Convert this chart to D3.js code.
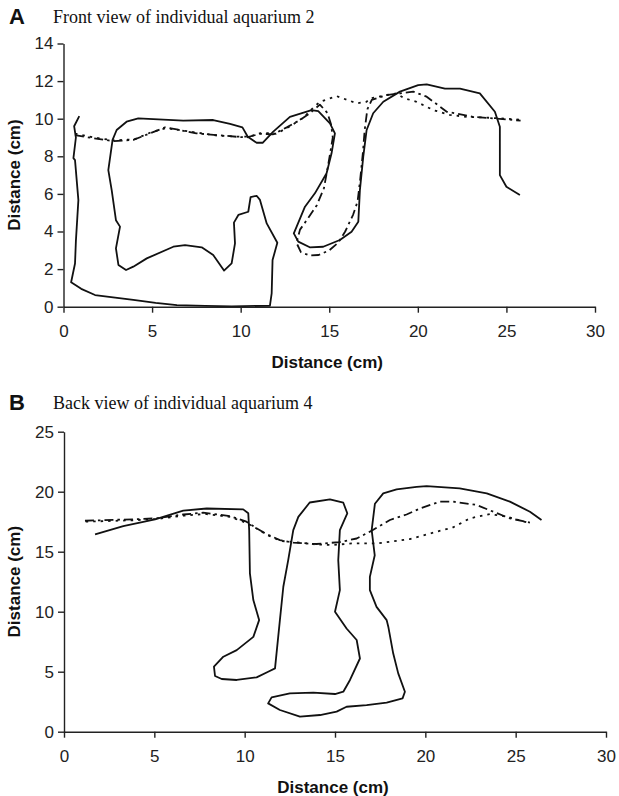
<!DOCTYPE html>
<html>
<head>
<meta charset="utf-8">
<script src="https://cdn.jsdelivr.net/npm/d3@7"></script>
<style>
  html, body { margin: 0; padding: 0; background: #fff; }
  svg { display: block; }
  .tick text { font-family: "Liberation Sans", Arial, sans-serif; font-size: 17px; fill: #222; }
  .domain, .tick line { stroke: #222; stroke-width: 1.4px; }
</style>
</head>
<body>
<svg id="chart" width="619" height="796"></svg>
<script>
// ---------- Data ----------
const xTicks = [0, 5, 10, 15, 20, 25, 30];
const yTicksA = [0, 2, 4, 6, 8, 10, 12, 14];
const yTicksB = [0, 5, 10, 15, 20, 25];
const titleA = "Front view of individual aquarium 2";
const titleB = "Back view of individual aquarium 4";
const axisTitle = "Distance (cm)";

const frontSolid = [
[0.89,10.14],[0.6,9.6],[0.7,9.0],[0.56,7.9],[0.65,7.8],[0.84,5.67],[0.7,3.5],[0.65,2.3],[0.43,1.3],[1.0,0.95],[1.78,0.62],[2.8,0.5],[3.94,0.36],[5.2,0.2],[6.4,0.08],[8.0,0.04],[9.5,0.02],[11.65,0.05],[11.75,0.71],[11.8,2.48],[12.07,3.4],[11.47,4.43],[11.09,5.68],[10.9,5.9],[10.56,5.83],[10.43,5.05],[9.87,4.88],[9.62,4.47],[9.68,3.37],[9.49,2.3],[9.06,1.92],[8.45,2.75],[7.8,3.16],[6.86,3.28],[6.2,3.19],[4.7,2.57],[3.94,2.13],[3.53,1.95],[3.1,2.22],[2.96,3.1],[3.19,4.26],[2.96,4.6],[2.72,6.2],[2.53,7.27],[2.77,8.87],[3.0,9.4],[3.56,9.84],[4.22,10.02],[6.76,9.9],[8.45,9.93],[9.4,9.72],[10.1,9.54],[10.4,9.04],[10.9,8.72],[11.24,8.72],[11.84,9.31],[12.78,10.1],[14.0,10.46],[14.38,10.4],[15.04,9.75],[15.32,9.22],[15.13,8.16],[14.85,7.1],[14.19,6.03],[13.63,5.32],[13.16,4.26],[13.0,3.9],[13.25,3.46],[13.9,3.16],[14.66,3.19],[15.6,3.55],[16.26,3.99],[16.64,4.52],[16.73,6.2],[16.92,7.98],[17.11,9.4],[17.48,10.29],[18.05,10.9],[18.99,11.44],[20.02,11.79],[20.5,11.83],[21.53,11.6],[22.38,11.6],[23.5,11.35],[24.35,10.37],[24.63,9.57],[24.63,7.0],[25.0,6.38],[25.76,5.94]
];
const frontDashDot = [
[0.65,9.13],[1.68,8.96],[2.81,8.81],[3.94,8.87],[4.88,9.22],[5.73,9.54],[6.39,9.43],[7.5,9.22],[8.64,9.13],[9.77,9.04],[10.34,9.0],[11.09,9.2],[11.84,9.17],[12.6,9.54],[13.35,9.93],[13.9,10.29],[14.47,10.75],[14.9,10.3],[15.1,9.7],[15.2,9.0],[14.95,7.6],[14.7,6.3],[14.3,5.4],[13.8,4.7],[13.35,4.1],[13.15,3.4],[13.4,2.9],[13.9,2.72],[14.4,2.75],[15.0,3.0],[15.5,3.4],[15.9,4.0],[16.35,4.9],[16.6,5.6],[16.75,6.8],[16.9,8.2],[17.0,9.4],[17.15,10.5],[17.4,11.0],[18.2,11.25],[19.0,11.35],[19.74,11.44],[20.5,11.17],[21.63,10.37],[23.1,10.1],[25.4,9.93],[25.8,9.9]
];
const frontDotted = [
[0.65,9.2],[1.7,9.0],[2.8,8.85],[4.0,8.9],[5.0,9.3],[5.8,9.5],[6.5,9.4],[7.6,9.25],[8.7,9.1],[9.8,9.05],[10.5,9.05],[11.2,9.25],[12.0,9.2],[12.8,9.6],[13.6,10.1],[14.0,10.5],[14.47,10.9],[15.42,11.2],[16.55,10.82],[17.1,10.9],[17.3,11.08],[18.24,11.26],[18.8,11.35],[19.2,11.1],[19.93,10.9],[20.87,10.46],[21.8,10.2],[22.75,10.1],[24.0,10.05],[25.8,9.95]
];

const backSolid = [
[1.72,16.45],[3.28,17.14],[5.04,17.7],[6.6,18.42],[7.9,18.6],[9.92,18.53],[10.2,18.2],[10.25,16.8],[10.29,13.2],[10.48,10.97],[10.8,9.3],[10.48,7.9],[9.56,6.8],[8.82,6.25],[8.3,5.42],[8.36,4.64],[8.73,4.39],[9.56,4.31],[10.66,4.53],[11.3,5.0],[11.68,5.28],[11.95,9.3],[12.14,12.08],[12.41,14.3],[12.69,16.8],[12.97,17.9],[13.6,19.1],[14.72,19.36],[15.46,19.08],[15.68,18.2],[15.27,16.8],[15.18,14.3],[15.27,11.8],[15.0,10.0],[15.64,8.6],[16.2,7.64],[16.38,6.1],[15.83,4.31],[15.46,3.33],[15.0,3.14],[13.8,3.25],[12.5,3.2],[11.49,2.86],[11.3,2.36],[11.95,1.81],[13.06,1.25],[14.17,1.39],[15.09,1.67],[15.64,2.08],[16.75,2.22],[17.86,2.42],[18.74,2.78],[18.87,3.33],[18.5,4.86],[18.22,6.53],[17.95,8.75],[17.86,9.3],[17.3,10.4],[16.93,11.8],[16.93,12.9],[17.2,14.7],[17.03,16.8],[17.21,19.0],[17.67,19.86],[18.41,20.2],[19.52,20.4],[20.07,20.47],[21.9,20.28],[23.4,19.86],[24.68,19.17],[25.79,18.33],[26.43,17.64]
];
const backDashDot = [
[1.16,17.58],[3.84,17.7],[5.1,17.78],[6.6,18.1],[7.7,18.25],[9.19,17.97],[10.1,17.5],[10.66,16.95],[11.3,16.4],[11.95,15.97],[12.69,15.75],[13.98,15.64],[15.27,15.8],[16.2,16.1],[16.93,16.67],[18.04,17.64],[18.96,18.1],[19.7,18.6],[20.8,19.17],[21.54,19.17],[22.84,18.9],[23.76,18.33],[24.68,17.78],[25.79,17.42]
];
const backDotted = [
[1.2,17.5],[3.8,17.62],[5.1,17.72],[6.6,18.0],[7.8,18.15],[9.2,17.9],[10.1,17.4],[10.7,16.9],[11.3,16.35],[12.0,15.9],[13.06,15.75],[14.0,15.6],[14.9,15.56],[16.0,15.7],[17.4,15.7],[19.15,16.05],[20.62,16.67],[21.5,17.0],[22.47,17.78],[23.57,18.14],[24.5,17.92],[25.79,17.37]
];

// ---------- Drawing ----------
const svg = d3.select("#chart");

function panel(cfg) {
  const x = d3.scaleLinear().domain([0, 30]).range([cfg.x0, cfg.x1]);
  const y = d3.scaleLinear().domain([0, cfg.yMax]).range([cfg.y0, cfg.y1]);
  const g = svg.append("g");

  // letter + title
  g.append("text").attr("x", 9).attr("y", cfg.titleY)
    .style("font-family", "'Liberation Sans', Arial, sans-serif")
    .style("font-weight", "bold").style("font-size", "22px").attr("fill", "#111")
    .text(cfg.letter);
  g.append("text").attr("x", 53).attr("y", cfg.titleY - 1)
    .style("font-family", "'Liberation Serif', 'Times New Roman', serif")
    .style("font-size", "18px").attr("fill", "#111")
    .text(cfg.title);

  const line = d3.line().x(d => x(d[0])).y(d => y(d[1]));
  const styles = [
    { data: cfg.dotted, dash: "2.5,5" },
    { data: cfg.dashdot, dash: "9,4,2.5,4" },
    { data: cfg.solid, dash: null }
  ];
  styles.forEach(s => {
    g.append("path").datum(s.data).attr("d", line)
      .attr("fill", "none").attr("stroke", "#111")
      .attr("stroke-width", 1.8).attr("stroke-linejoin", "round")
      .attr("stroke-dasharray", s.dash);
  });

  g.append("g").attr("transform", `translate(0,${cfg.y0})`)
    .call(d3.axisBottom(x).tickValues(xTicks).tickSize(6).tickSizeOuter(0).tickPadding(12));
  g.append("g").attr("transform", `translate(${cfg.x0},0)`)
    .call(d3.axisLeft(y).tickValues(cfg.yTicks).tickSize(6).tickSizeOuter(0).tickPadding(4));

  g.append("text").attr("x", (cfg.x0 + cfg.x1) / 2 - 2).attr("y", cfg.y0 + 61)
    .attr("text-anchor", "middle")
    .style("font-family", "'Liberation Sans', Arial, sans-serif")
    .style("font-weight", "bold").style("font-size", "17px").attr("fill", "#111")
    .text(axisTitle);
  g.append("text")
    .attr("transform", `translate(20,${(cfg.y0 + cfg.y1) / 2}) rotate(-90)`)
    .attr("text-anchor", "middle")
    .style("font-family", "'Liberation Sans', Arial, sans-serif")
    .style("font-weight", "bold").style("font-size", "17px").attr("fill", "#111")
    .text(axisTitle);
}

panel({ letter: "A", title: titleA, titleY: 24, x0: 63.5, x1: 595, y0: 306.7, y1: 43.5, yMax: 14,
  yTicks: yTicksA, solid: frontSolid, dashdot: frontDashDot, dotted: frontDotted });
panel({ letter: "B", title: titleB, titleY: 410, x0: 64, x1: 606, y0: 731.7, y1: 431.7, yMax: 25,
  yTicks: yTicksB, solid: backSolid, dashdot: backDashDot, dotted: backDotted });
</script>
</body>
</html>
